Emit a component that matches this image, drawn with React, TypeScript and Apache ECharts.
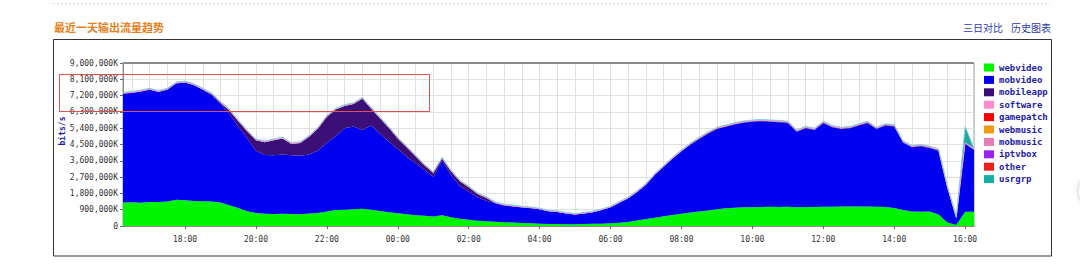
import React, { useEffect, useRef } from "react";
import * as echarts from "echarts";

// ---- categories (15-minute samples, 16:15 -> 16:15 next day) ----
const times = [
  "16:15","16:30","16:45","17:00","17:15","17:30","17:45","18:00","18:15","18:30","18:45",
  "19:00","19:15","19:30","19:45","20:00","20:15","20:30","20:45","21:00","21:15","21:30","21:45",
  "22:00","22:15","22:30","22:45","23:00","23:15","23:30","23:45","00:00","00:15","00:30","00:45",
  "01:00","01:15","01:30","01:45","02:00","02:15","02:30","02:45","03:00","03:15","03:30","03:45",
  "04:00","04:15","04:30","04:45","05:00","05:15","05:30","05:45","06:00","06:15","06:30","06:45",
  "07:00","07:15","07:30","07:45","08:00","08:15","08:30","08:45","09:00","09:15","09:30","09:45",
  "10:00","10:15","10:30","10:45","11:00","11:15","11:30","11:45","12:00","12:15","12:30","12:45",
  "13:00","13:15","13:30","13:45","14:00","14:15","14:30","14:45","15:00","15:15","15:30","15:45",
  "16:00","16:15",
];

// ---- series values, in thousands of K (1 = 1,000K bits/s) ----
const webvideo = [
  1300,1310,1290,1320,1330,1350,1450,1420,1380,1370,1350,1300,1150,1000,820,720,
  670,660,670,660,650,690,720,800,880,900,920,950,900,830,760,700,
  650,600,560,520,600,480,400,340,290,260,240,210,190,170,150,130,
  115,110,100,100,110,120,130,150,180,220,300,390,460,540,610,680,
  740,800,850,920,980,1010,1030,1040,1050,1060,1050,1060,1040,1050,1050,1060,
  1060,1070,1080,1080,1070,1060,1050,1000,880,800,790,800,640,200,60,790,
  780,
];
const mobvideo = [
  6000,6040,6130,6200,6070,6170,6420,6500,6390,6150,5880,5450,5050,4500,4030,3430,
  3250,3240,3280,3240,3230,3260,3430,3800,4070,4500,4580,4350,4650,4270,3890,3535,
  3175,2860,2530,2200,3000,2335,1810,1555,1295,1140,1010,910,880,850,830,790,
  695,660,590,530,580,640,750,880,1100,1310,1580,1890,2370,2730,3110,3430,
  3740,4000,4250,4430,4500,4590,4670,4710,4730,4690,4680,4620,4160,4350,4250,4620,
  4390,4280,4320,4470,4610,4290,4500,4500,3720,3550,3610,3500,3510,1900,360,3760,
  3420,
];
const mobileapp = [
  10,10,10,10,10,10,10,10,10,10,50,60,180,280,380,580,
  710,830,880,630,700,980,1230,1430,1480,1230,1230,1730,930,830,760,590,
  520,390,260,210,130,205,260,245,185,150,20,25,20,10,10,0,
  0,0,0,0,0,0,0,0,0,0,0,0,0,10,10,30,
  30,30,30,30,30,30,30,30,30,30,30,30,30,30,30,30,
  30,30,30,30,30,30,30,30,30,30,30,30,30,30,30,10,
  30,
];
const software = [
  40,40,40,40,40,40,40,40,40,40,40,40,40,40,40,40,
  40,40,40,40,40,40,40,40,40,40,40,40,40,40,40,30,
  30,30,30,30,30,30,30,30,30,30,30,30,30,30,30,30,
  30,30,30,30,30,30,30,30,40,40,40,40,40,40,40,40,
  40,40,40,40,40,40,40,40,40,40,40,40,40,40,40,40,
  40,40,40,40,40,40,40,40,40,40,40,40,40,40,40,40,
  40,
];
const gamepatch: number[] = [];
const webmusic: number[] = [];
const mobmusic: number[] = [];
const iptvbox: number[] = [];
const other: number[] = [];
const usrgrp = [
  30,30,30,30,30,30,30,30,30,30,30,30,30,30,30,30,
  30,30,30,30,30,30,30,30,30,30,30,30,30,30,30,30,
  30,30,30,30,30,30,30,30,30,30,30,30,30,30,30,30,
  30,30,30,30,30,30,30,30,30,30,30,30,30,30,30,30,
  30,30,30,30,30,30,30,30,30,30,30,30,30,30,30,30,
  30,30,30,30,30,30,30,30,30,30,30,30,30,30,30,900,
  30,
];

const seriesNames = [
  "webvideo","mobvideo","mobileapp","software","gamepatch",
  "webmusic","mobmusic","iptvbox","other","usrgrp",
];
const seriesData = [
  webvideo, mobvideo, mobileapp, software, gamepatch,
  webmusic, mobmusic, iptvbox, other, usrgrp,
];
const seriesColors = [
  "#00f400","#0000f0","#3a1078","#ff8ccc","#ff0000",
  "#f29a16","#e77bb8","#9b22ee","#e8201c","#1aaca0",
];
const edgeColors: Record<string, string> = { software: "#ff8ccc", usrgrp: "#86d6d6" };

const yMax = 9000;
const yInterval = 900;

const titleText = "最近一天输出流量趋势";
const linkTexts = ["三日对比", "历史图表"];
const yName = "bits/s";

function fmtY(v: number): string {
  if (v === 0) return "0";
  const s = String(Math.round(v * 1000));
  return s.replace(/\B(?=(\d{3})+(?!\d))/g, ",") + "K";
}

const isMajor = (_i: number, v: string) => v.endsWith(":00") && parseInt(v, 10) % 2 === 0;
const isHalf = (_i: number, v: string) => v.endsWith(":00") || v.endsWith(":30");

const MONO = "'DejaVu Sans Mono', 'Liberation Mono', monospace";

export default function App() {
  const ref = useRef<HTMLDivElement>(null);
  useEffect(() => {
    if (!ref.current) return;
    const chart = echarts.init(ref.current, undefined, { renderer: "svg" });
    const series = seriesNames.map((name, k) => {
      const data = seriesData[k];
      const hasData = data.length > 0;
      const edge = edgeColors[name];
      return {
        name,
        type: "line",
        stack: hasData ? "total" : undefined,
        data,
        showSymbol: false,
        symbol: "none",
        smooth: false,
        color: seriesColors[k],
        lineStyle: edge ? { width: 1, color: edge } : { width: 0 },
        areaStyle: { color: seriesColors[k], opacity: 1 },
        emphasis: { disabled: true },
        z: 2,
      };
    });
    chart.setOption({
      animation: false,
      title: {
        text: titleText,
        left: 54,
        top: 21,
        padding: 0,
        textStyle: {
          fontFamily: "'Noto Sans CJK SC', sans-serif",
          fontSize: 11,
          fontWeight: "bold",
          color: "#e5801c",
        },
      },
      legend: {
        orient: "vertical",
        left: 984,
        top: 63,
        padding: 0,
        itemWidth: 10,
        itemHeight: 8,
        itemGap: 3.4,
        icon: "rect",
        selectedMode: false,
        data: seriesNames,
        textStyle: {
          fontFamily: MONO,
          fontWeight: "bold",
          fontSize: 9,
          lineHeight: 9,
          color: "#1e22a6",
        },
      },
      grid: {
        left: 123,
        top: 63,
        width: 851,
        height: 163,
        show: true,
        borderColor: "#999",
        borderWidth: 1,
        containLabel: false,
      },
      xAxis: {
        type: "category",
        boundaryGap: false,
        data: times,
        axisLine: { show: true, lineStyle: { color: "#888", width: 1 } },
        axisTick: { show: true, interval: isMajor, length: 3, lineStyle: { color: "#666" } },
        axisLabel: {
          interval: isMajor,
          margin: 9,
          fontFamily: MONO,
          fontSize: 8,
          color: "#333",
        },
        splitLine: { show: true, interval: isHalf, lineStyle: { color: "#e0e0e0", width: 1 } },
      },
      yAxis: {
        type: "value",
        min: 0,
        max: yMax,
        interval: yInterval,
        axisLine: { show: true, lineStyle: { color: "#888", width: 1 } },
        axisTick: { show: true, length: 3, lineStyle: { color: "#666" } },
        axisLabel: {
          formatter: fmtY,
          margin: 5,
          fontFamily: MONO,
          fontSize: 8,
          color: "#333",
        },
        splitLine: { show: true, lineStyle: { color: "#e0e0e0", width: 1 } },
      },
      series,
      graphic: [
        {
          type: "line",
          shape: { x1: 53, y1: 3.5, x2: 1050, y2: 3.5 },
          style: { stroke: "#d8d8d8", lineWidth: 1, lineDash: [2, 2] },
          silent: true,
        },
        {
          type: "rect",
          shape: { x: 53.5, y: 39.5, width: 998, height: 216.5 },
          style: { fill: "none", stroke: "#333", lineWidth: 1 },
          silent: true,
          z: 0,
        },
        {
          type: "line",
          shape: { x1: 123, y1: 63, x2: 974, y2: 63 },
          style: { stroke: "#8a8a8a", lineWidth: 2 },
          silent: true,
          z: 5,
        },
        {
          type: "text",
          x: 963,
          y: 27,
          style: {
            text: linkTexts[0],
            fill: "#2b3bb3",
            fontSize: 10,
            fontFamily: "'Noto Sans CJK SC', sans-serif",
            verticalAlign: "middle",
          },
          silent: true,
        },
        {
          type: "text",
          x: 1011,
          y: 27,
          style: {
            text: linkTexts[1],
            fill: "#2b3bb3",
            fontSize: 10,
            fontFamily: "'Noto Sans CJK SC', sans-serif",
            verticalAlign: "middle",
          },
          silent: true,
        },
        {
          type: "text",
          x: 62,
          y: 131,
          rotation: Math.PI / 2,
          style: {
            text: yName,
            fill: "#1e22a6",
            fontSize: 8,
            fontWeight: "bold",
            fontFamily: MONO,
            align: "center",
            verticalAlign: "middle",
          },
          silent: true,
        },
        {
          type: "rect",
          shape: { x: 59.5, y: 74.5, width: 370, height: 37 },
          style: { fill: "transparent", stroke: "#e05252", lineWidth: 1 },
          silent: true,
          z: 100,
        },
        {
          type: "circle",
          shape: { cx: 1094, cy: 191, r: 16 },
          style: {
            fill: "#ffffff",
            stroke: "#dddddd",
            lineWidth: 1,
            shadowBlur: 4,
            shadowColor: "rgba(0,0,0,0.18)",
          },
          silent: true,
        },
      ],
    });
    return () => chart.dispose();
  }, []);
  return (
    <div
      ref={ref}
      style={{ position: "fixed", left: 0, top: 0, width: 1080, height: 277, background: "#fff" }}
    />
  );
}
